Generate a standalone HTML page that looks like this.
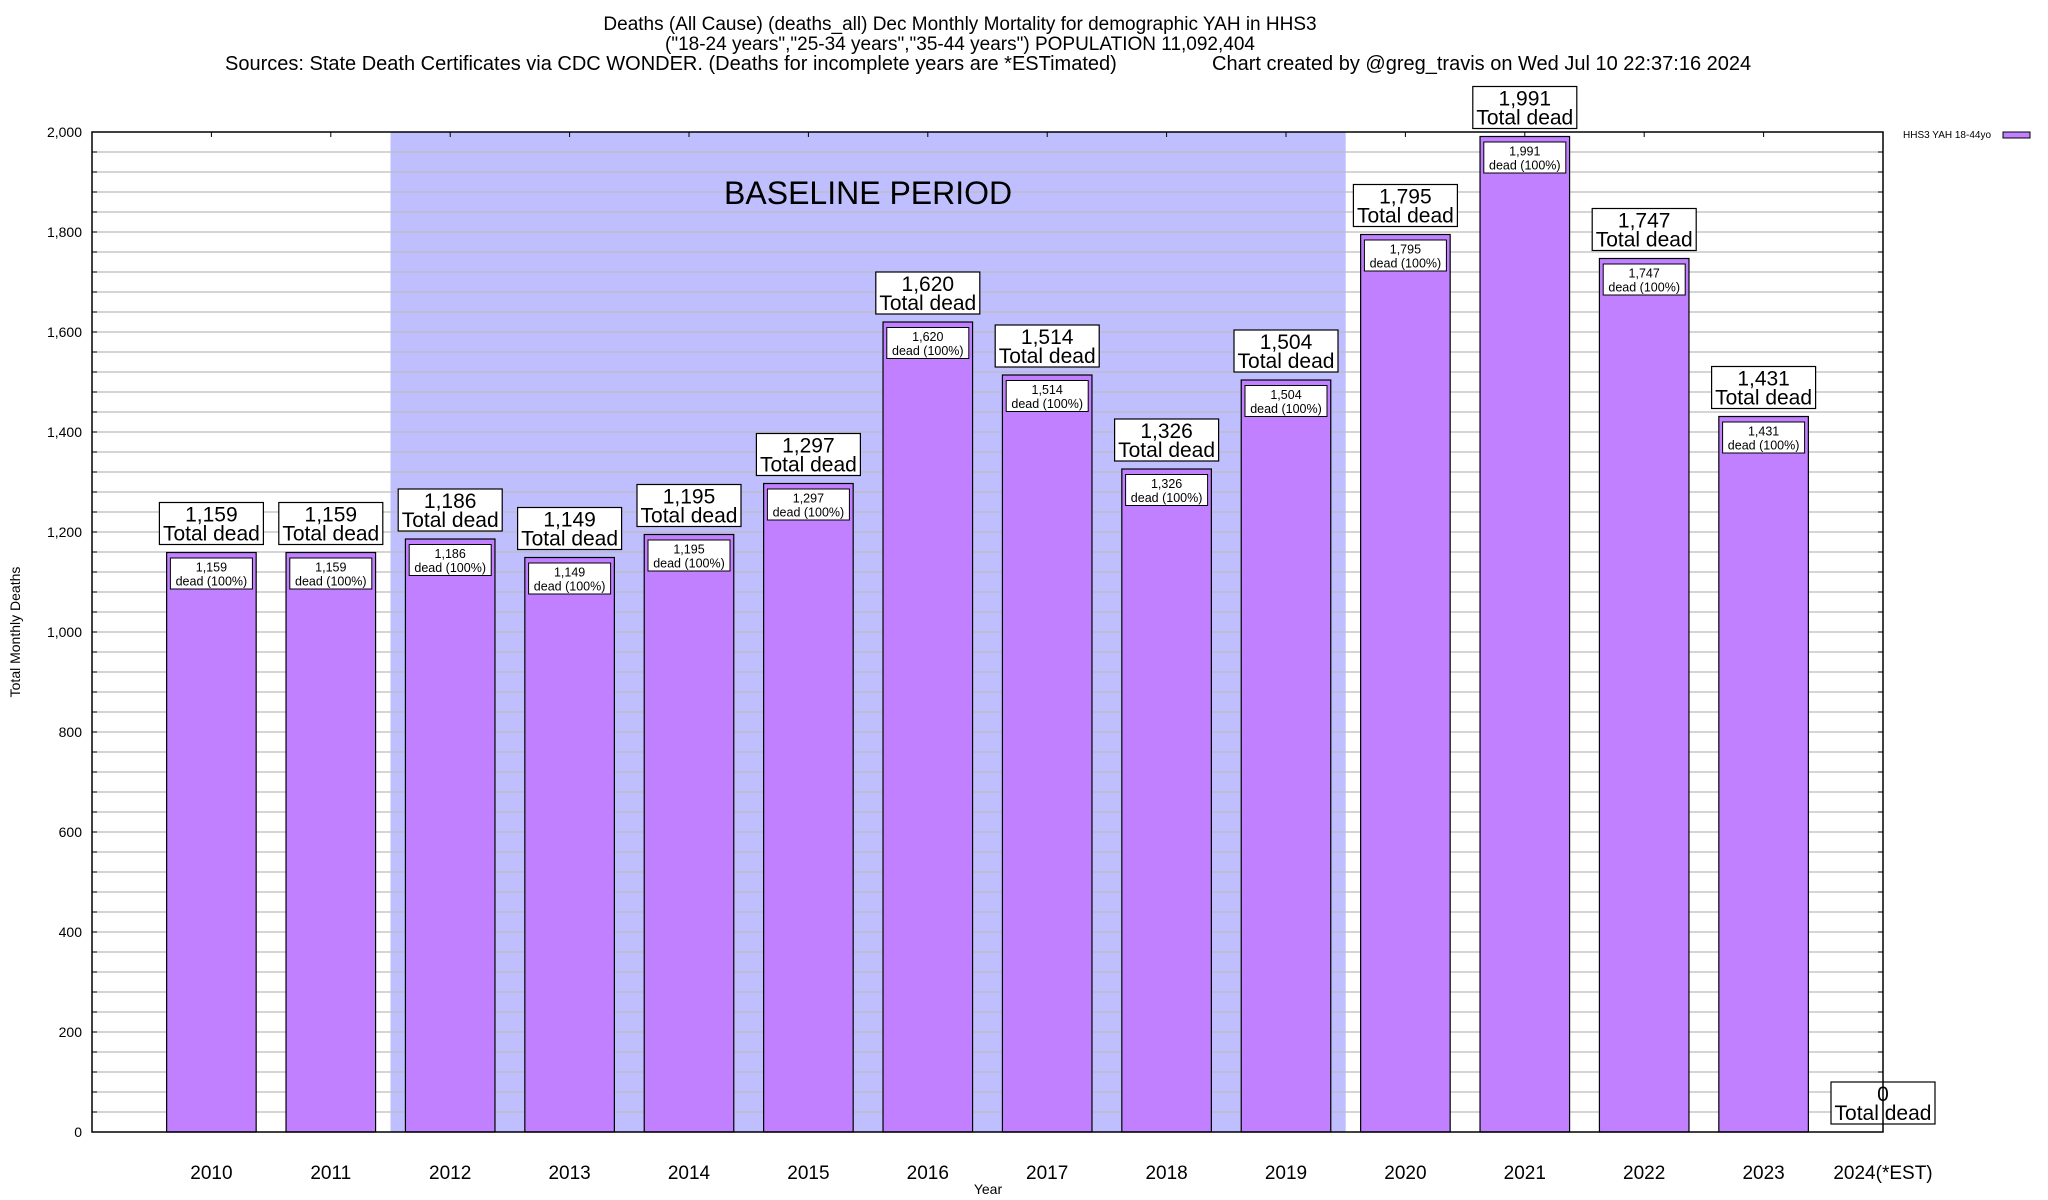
<!DOCTYPE html>
<html><head><meta charset="utf-8"><style>
body{margin:0;background:#fff}
svg{display:block;font-family:"Liberation Sans",Arial,sans-serif}
</style></head><body>
<svg id="chart" width="2048" height="1200" viewBox="0 0 2048 1200" xmlns="http://www.w3.org/2000/svg">
<rect width="2048" height="1200" fill="#fff"/>
<text x="960" y="30" font-size="19" text-anchor="middle">Deaths (All Cause) (deaths_all) Dec Monthly Mortality for demographic YAH in HHS3</text>
<text x="960" y="50" font-size="19" text-anchor="middle">("18-24 years","25-34 years","35-44 years") POPULATION 11,092,404</text>
<text x="225" y="70" font-size="20">Sources: State Death Certificates via CDC WONDER. (Deaths for incomplete years are *ESTimated)</text>
<text x="1212" y="70" font-size="20">Chart created by @greg_travis on Wed Jul 10 22:37:16 2024</text>
<g id="plot"></g>
<text x="1903" y="138" font-size="10">HHS3 YAH 18-44yo</text>
<rect x="2003" y="132" width="27" height="6" fill="#c080ff" stroke="#000" stroke-width="1"/>
<text x="988" y="1194" font-size="14" text-anchor="middle">Year</text>
<text transform="translate(20,632) rotate(-90)" font-size="14" text-anchor="middle">Total Monthly Deaths</text>
</svg>
<script>
const categories = ["2010","2011","2012","2013","2014","2015","2016","2017","2018","2019","2020","2021","2022","2023","2024(*EST)"];
const deaths = [1159,1159,1186,1149,1195,1297,1620,1514,1326,1504,1795,1991,1747,1431,0];
const yTicks = [0,200,400,600,800,1000,1200,1400,1600,1800,2000];
const baselineRange = [1.5,9.5];

const NS="http://www.w3.org/2000/svg";
const L=92,R=1883,T=132,B=1132,yMax=2000;
const xs=i=>L+(i+1)*(R-L)/categories.length;
const ys=v=>B-v*(B-T)/yMax;
const unit=(R-L)/categories.length;
const g=document.getElementById('plot');
function mk(tag,attrs,parent){const e=document.createElementNS(NS,tag);for(const k in attrs)e.setAttribute(k,attrs[k]);(parent||g).appendChild(e);return e;}
const fmt=v=>v.toLocaleString('en-US');

// baseline shading
const sh=mk('rect',{x:xs(baselineRange[0]),y:T,width:xs(baselineRange[1])-xs(baselineRange[0]),height:B-T,fill:'#bfbfff'});



// grid + y ticks
for(let v=0;v<=yMax;v+=40){
  const y=ys(v);
  if(v>0&&v<yMax){const gl=mk('line',{x1:L,x2:R,y1:y,y2:y,stroke:'#bcbcbc','stroke-width':1.2});
    
    }
  mk('line',{x1:L,x2:L+5,y1:y,y2:y,stroke:'#000'});
  mk('line',{x1:R,x2:R-5,y1:y,y2:y,stroke:'#000'});
}
const st=mk('text',{x:(xs(baselineRange[0])+xs(baselineRange[1]))/2,y:204,'font-size':32,'text-anchor':'middle'});
st.textContent='BASELINE PERIOD';


yTicks.forEach(v=>{
  const t=mk('text',{x:L-10,y:ys(v)+5,'font-size':14,'text-anchor':'end'});
  t.textContent=fmt(v);
  
  
});

// bars
categories.forEach((c,i)=>{
  const cx=xs(i),v=deaths[i],bw=unit*0.75;
  if(v>0){
    const b=mk('rect',{x:cx-bw/2,y:ys(v),width:bw,height:B-ys(v),fill:'#c080ff',stroke:'#000','stroke-width':1.2});
    
    
    const ib=mk('rect',{x:cx-41,y:ys(v)+5.5,width:82,height:31,fill:'#fff',stroke:'#000','stroke-width':1});
    
    
    const it=mk('text',{x:cx,y:ys(v)+19,'font-size':12.5,'text-anchor':'middle'});
    it.textContent=fmt(v);
    
    
    const it2=mk('text',{x:cx,y:ys(v)+33,'font-size':12.5,'text-anchor':'middle'});
    it2.textContent='dead (100%)';
    
    
  }
  const top=ys(v)-50;
  const lb=mk('rect',{x:cx-52,y:top,width:104,height:42,fill:'#fff',stroke:'#000','stroke-width':1.2});
  
  
  const t1=mk('text',{x:cx,y:top+19,'font-size':21,'text-anchor':'middle'});
  t1.textContent=fmt(v);
  
  
  const t2=mk('text',{x:cx,y:top+38,'font-size':21,'text-anchor':'middle'});
  t2.textContent='Total dead';
  
  
  const xl=mk('text',{x:cx,y:1179,'font-size':19,'text-anchor':'middle'});
  xl.textContent=c;
  
  
  mk('line',{x1:cx,x2:cx,y1:T,y2:T+5,stroke:'#000'});
});

// axes frame
const fr=mk('rect',{x:L,y:T,width:R-L,height:B-T,fill:'none',stroke:'#000','stroke-width':1.5});


</script>
</body></html>
